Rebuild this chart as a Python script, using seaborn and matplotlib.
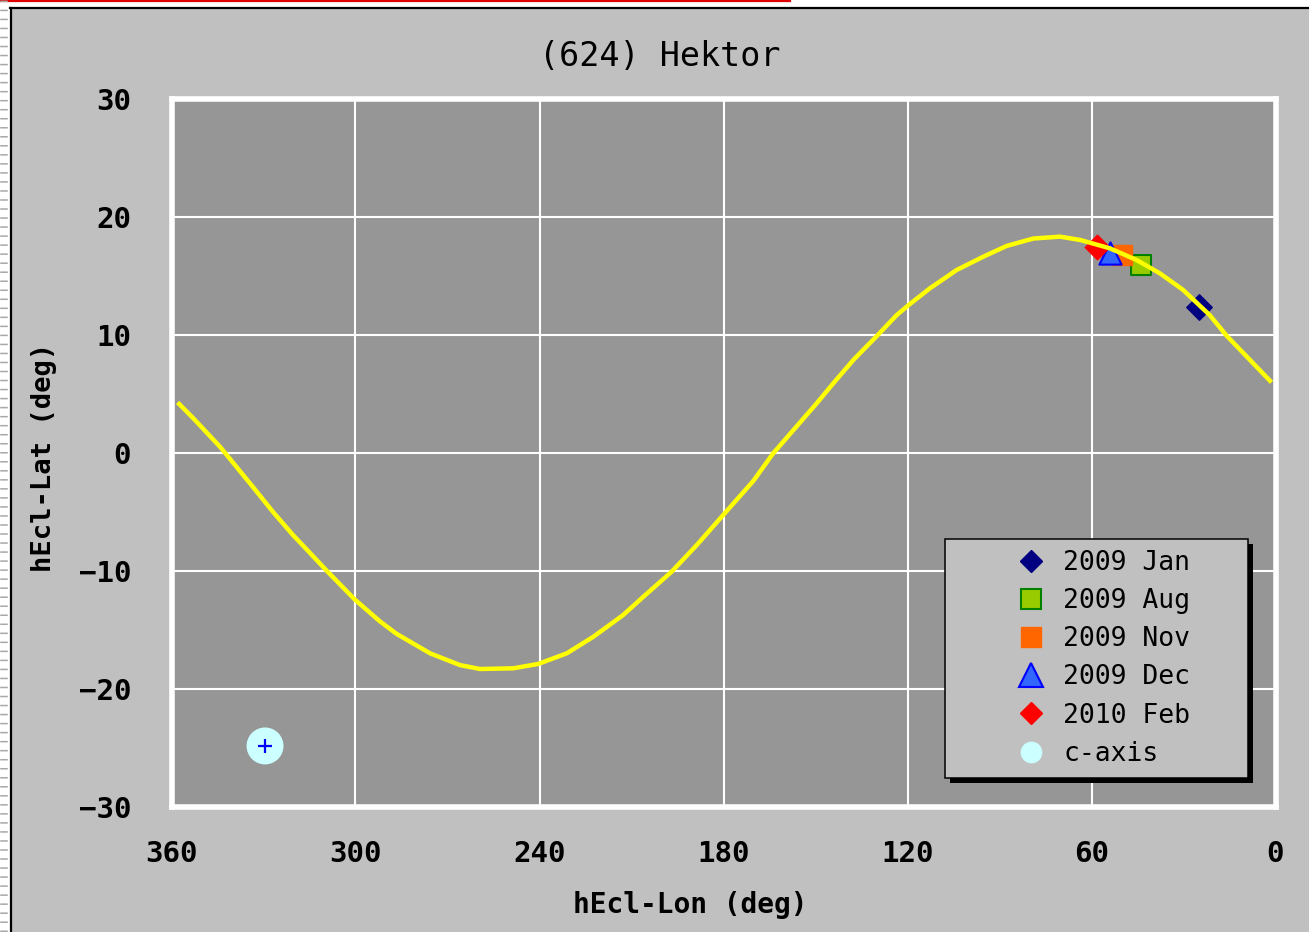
import matplotlib
matplotlib.use("Agg")
import matplotlib.pyplot as plt
from matplotlib.lines import Line2D
from matplotlib.patches import Rectangle
from matplotlib.transforms import IdentityTransform
import seaborn as sns

# Heliocentric ecliptic track of (624) Hektor (deg)
track_lon = [357.5, 352.9, 344.2, 333.3, 326.8, 320.3, 317.0, 309.4, 300.2, 292.0,
             286.6, 275.7, 265.9, 259.4, 248.5, 240.4, 231.1, 222.4, 212.7, 206.1,
             196.9, 188.7, 180.1, 170.3, 163.8, 157.2, 149.6, 144.2, 137.7, 130.0,
             123.5, 119.7, 112.7, 104.0, 95.3, 87.7, 79.0, 70.3, 63.7, 54.0,
             45.3, 37.7, 30.1, 21.4, 15.9, 9.4, 1.8]
track_lat = [4.18, 2.97, 0.56, -2.90, -5.00, -6.95, -7.85, -9.95, -12.40, -14.25,
             -15.30, -16.95, -17.95, -18.28, -18.22, -17.85, -16.95, -15.54, -13.70, -12.15,
             -10.03, -7.77, -5.23, -2.35, 0.00, 1.97, 4.24, 5.93, 7.90, 9.94,
             11.72, 12.55, 13.98, 15.53, 16.66, 17.57, 18.20, 18.36, 18.08, 17.37,
             16.38, 15.25, 13.84, 11.70, 9.95, 8.20, 6.15]

# Observation epochs
epoch_labels = ["2009 Jan", "2009 Aug", "2009 Nov", "2009 Dec", "2010 Feb"]
epoch_lon = [24.85, 43.9, 50.2, 54.0, 58.3]
epoch_lat = [12.4, 15.96, 16.8, 16.95, 17.5]

# Spin-axis (c-axis) direction
pole_label = "c-axis"
pole_lon = [329.5]
pole_lat = [-24.8]

x_ticks = [360, 300, 240, 180, 120, 60, 0]
y_ticks = [30, 20, 10, 0, -10, -20, -30]

title = "(624) Hektor"
x_label = "hEcl-Lon (deg)"
y_label = "hEcl-Lat (deg)"

# marker styles: (marker, plot size, legend size, face, edge, edge width)
epoch_styles = [
    ("D", 13.0, 11.7, "#000080", "#000080", 1.0),
    ("s", 15.0, 15.0, "#99cc00", "#008000", 1.5),
    ("s", 14.5, 14.5, "#ff6600", "#ff6600", 1.0),
    ("^", 16.0, 17.0, "#3366ff", "#0000ff", 1.5),
    ("D", 12.5, 11.7, "#ff0000", "#ff0000", 1.0),
]
pole_style = ("o", 26.6, 15.6, "#ccffff", "#ccffff", 0.0)

plt.rcParams["lines.scale_dashes"] = False
MONO = "DejaVu Sans Mono"

W, H = 1309, 932
fig = plt.figure(figsize=(W / 100, H / 100), dpi=100, facecolor="white")

# window panel with its dark left/top border
fig.patches.append(Rectangle((10 / W, 0), 1 - 10 / W, (H - 8) / H,
                             transform=fig.transFigure, facecolor="#c0c0c0",
                             edgecolor="none", zorder=-10))
fig.add_artist(Line2D([10.5 / W, 10.5 / W], [0, (H - 8) / H], color="black", lw=1.6))
fig.add_artist(Line2D([10 / W, 1], [(H - 8) / H, (H - 8) / H], color="black", lw=1.6))
fig.add_artist(Line2D([0, 790 / W], [1 - 1 / H, 1 - 1 / H], color="#e00000", lw=1.6))
fig.add_artist(Line2D([4 / W, 4 / W], [0, 1], color="#a8a8a8", lw=5.5, dashes=(1.1, 5.4)))

ax = fig.add_axes([171.5 / W, 1 - 807.3 / H, 1104 / W, 708 / H])
ax.set_facecolor("#969696")

# observation markers (beneath the track)
for i, (lon, lat) in enumerate(zip(epoch_lon, epoch_lat)):
    m, ms, _, fc, ec, mew = epoch_styles[i]
    sns.scatterplot(x=[lon], y=[lat], marker=m, s=ms ** 2, color=fc,
                    edgecolor=ec, linewidth=mew, ax=ax, zorder=3 + i * 0.1)

m, ms, _, fc, ec, mew = pole_style
sns.scatterplot(x=pole_lon, y=pole_lat, marker=m, s=ms ** 2, color=fc,
                edgecolor="none", linewidth=0, ax=ax, zorder=3)
sns.scatterplot(x=pole_lon, y=pole_lat, marker="+", s=90, color="#0000ff",
                linewidth=1.6, ax=ax, zorder=3.5)

# orbit track
sns.lineplot(x=track_lon, y=track_lat, sort=False, estimator=None,
             color="#ffff00", lw=3.2, ax=ax, zorder=5)

ax.set_xlim(360, 0)
ax.set_ylim(-30, 30)
ax.set_xticks(x_ticks)
ax.set_yticks(y_ticks)
ax.grid(True, color="white", lw=1.5)
ax.set_axisbelow(True)
for sp in ax.spines.values():
    sp.set_color("white")
    sp.set_linewidth(4)
ax.tick_params(axis="both", length=0, labelsize=21)
ax.tick_params(axis="y", pad=29)
ax.tick_params(axis="x", pad=23.5)
for lbl in ax.get_xticklabels() + ax.get_yticklabels():
    lbl.set_fontweight("bold")
    lbl.set_family(MONO)

ax.set_xlabel(x_label, fontsize=20, fontweight="bold", family=MONO)
ax.set_ylabel(y_label, fontsize=19.5, fontweight="bold", family=MONO)
ax.xaxis.set_label_coords((690 - 171.5) / 1104, (807.3 - 891) / 708)
ax.yaxis.set_label_coords((57 - 171.5) / 1104, (807.3 - 457) / 708)

fig.text(660 / W, 1 - 56 / H, title, ha="center", va="center", fontsize=24, family=MONO)

# legend
handles = []
for st in epoch_styles + [pole_style]:
    m, _, lms, fc, ec, mew = st
    handles.append(Line2D([], [], ls="none", marker=m, markersize=lms,
                          markerfacecolor=fc, markeredgecolor=ec, markeredgewidth=mew))
leg = ax.legend(handles, epoch_labels + [pole_label], loc="upper left",
                bbox_to_anchor=((945 - 171.5) / 1104, (807.3 - 539) / 708,
                                303 / 1104, 0.0),
                mode="expand", borderaxespad=0, frameon=True, fancybox=False,
                facecolor="#c0c0c0", edgecolor="black", framealpha=1,
                prop=dict(family=MONO, size=19), handlelength=5.7,
                handletextpad=-1.63, borderpad=0.42, labelspacing=0.46, numpoints=1)
leg.get_frame().set_linewidth(1.1)
leg.set_zorder(10)

fig.canvas.draw()
bb = leg.get_frame().get_window_extent()
shadow = Rectangle((bb.x0 + 5, bb.y0 - 5), bb.width, bb.height, transform=IdentityTransform(),
                   facecolor="black", edgecolor="none", zorder=9)
ax.add_artist(shadow)

fig.savefig("out.png", dpi=100, facecolor=fig.get_facecolor())
